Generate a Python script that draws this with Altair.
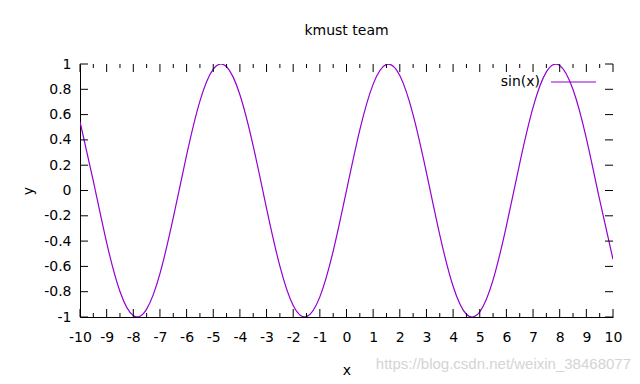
import altair as alt
import pandas as pd

# sample points of the plotted curve
xs = [-10, -9.5, -9, -8.5, -8, -7.5, -7, -6.5, -6, -5.5, -5, -4.5, -4, -3.5, -3, -2.5, -2, -1.5, -1, -0.5,
      0, 0.5, 1, 1.5, 2, 2.5, 3, 3.5, 4, 4.5, 5, 5.5, 6, 6.5, 7, 7.5, 8, 8.5, 9, 9.5, 10]
ys = [0.544, 0.075, -0.412, -0.798, -0.989, -0.938, -0.657, -0.215, 0.279, 0.706, 0.959, 0.978, 0.757, 0.351,
      -0.141, -0.598, -0.909, -0.997, -0.841, -0.479, 0.0, 0.479, 0.841, 0.997, 0.909, 0.598, 0.141, -0.351,
      -0.757, -0.978, -0.959, -0.706, -0.279, 0.215, 0.657, 0.938, 0.989, 0.798, 0.412, -0.075, -0.544]

x_major = [-10, -9, -8, -7, -6, -5, -4, -3, -2, -1, 0, 1, 2, 3, 4, 5, 6, 7, 8, 9, 10]
x_minor = [-9.5, -8.5, -7.5, -6.5, -5.5, -4.5, -3.5, -2.5, -1.5, -0.5, 0.5, 1.5, 2.5, 3.5, 4.5, 5.5,
           6.5, 7.5, 8.5, 9.5]
y_major = [-1, -0.8, -0.6, -0.4, -0.2, 0, 0.2, 0.4, 0.6, 0.8, 1]

title_text = "kmust team"
series_name = "sin(x)"
x_title = "x"
y_title = "y"
watermark = "https://blog.csdn.net/weixin_38468077"

W, H = 533, 253
FONT = "DejaVu Sans"
COLOR = "#9400D3"

xscale = alt.Scale(domain=[-10, 10], nice=False, zero=False)
yscale = alt.Scale(domain=[-1, 1], nice=False, zero=False)

xaxis = alt.Axis(values=x_major, title=x_title, ticks=False, grid=False, domain=True,
                 domainColor="black", labelExpr="'' + datum.value", labelPadding=13,
                 labelOverlap=False, labelBound=False, labelFlush=False,
                 labelFont=FONT, labelFontSize=14, labelColor="black",
                 titleFont=FONT, titleFontSize=14, titleFontWeight="normal", titleColor="black",
                 titleX=W / 2, titleY=53, titleBaseline="middle")
yaxis = alt.Axis(values=y_major, title=y_title, ticks=False, grid=False, domain=True,
                 domainColor="black", labelExpr="'' + datum.value", labelPadding=9,
                 labelOverlap=False, labelBound=False, labelFlush=False,
                 labelFont=FONT, labelFontSize=14, labelColor="black",
                 titleFont=FONT, titleFontSize=14, titleFontWeight="normal", titleColor="black",
                 titleAngle=-90, titleX=-52, titleY=H / 2, titleBaseline="middle",
                 titleAlign="center")

df = pd.DataFrame({"x": xs, "y": ys})
dfxM = pd.DataFrame({"x": x_major})
dfxm = pd.DataFrame({"x": x_minor})
dfyM = pd.DataFrame({"y": y_major})

line = alt.Chart(df).mark_line(color=COLOR, strokeWidth=1.2, interpolate="natural", clip=True).encode(
    x=alt.X("x:Q", scale=xscale, axis=xaxis),
    y=alt.Y("y:Q", scale=yscale, axis=yaxis),
)

def xticks(d, y0, y1):
    return alt.Chart(d).mark_rule(color="black", strokeWidth=1).encode(
        x=alt.X("x:Q", scale=xscale, axis=xaxis), y=alt.value(y0), y2=alt.value(y1))

def yticks(d, x0, x1):
    return alt.Chart(d).mark_rule(color="black", strokeWidth=1).encode(
        y=alt.Y("y:Q", scale=yscale, axis=yaxis), x=alt.value(x0), x2=alt.value(x1))

ticks = [
    xticks(dfxM, H, H - 8), xticks(dfxm, H, H - 4),
    xticks(dfxM, 0, 8), xticks(dfxm, 0, 4),
    yticks(dfyM, 0, 8), yticks(dfyM, W, W - 8),
]

legend_df = pd.DataFrame({"name": [series_name]})
legend_text = alt.Chart(legend_df).mark_text(align="right", baseline="middle", font=FONT, fontSize=14,
                                             color="black").encode(
    text="name:N", x=alt.value(460), y=alt.value(18))
legend_line = alt.Chart(legend_df).mark_rule(color=COLOR, strokeWidth=1.2).encode(
    x=alt.value(471), x2=alt.value(516), y=alt.value(18))

wm_df = pd.DataFrame({"t": [watermark]})
wm = alt.Chart(wm_df).mark_text(align="right", baseline="middle", font="Liberation Sans", fontSize=15,
                                color="#d4d4d4").encode(
    text="t:N", x=alt.value(551), y=alt.value(300))

chart = alt.layer(line, *ticks, legend_text, legend_line, wm).properties(
    width=W, height=H,
    title=alt.TitleParams(title_text, font=FONT, fontSize=14, fontWeight="normal", color="black",
                          anchor="middle", offset=19),
    autosize=alt.AutoSizeParams(type="none"),
    padding={"left": 72, "top": 56, "right": 19, "bottom": 59},
).configure_view(stroke=None)

chart.save("out.html", embed_options={"renderer": "svg", "actions": False})
